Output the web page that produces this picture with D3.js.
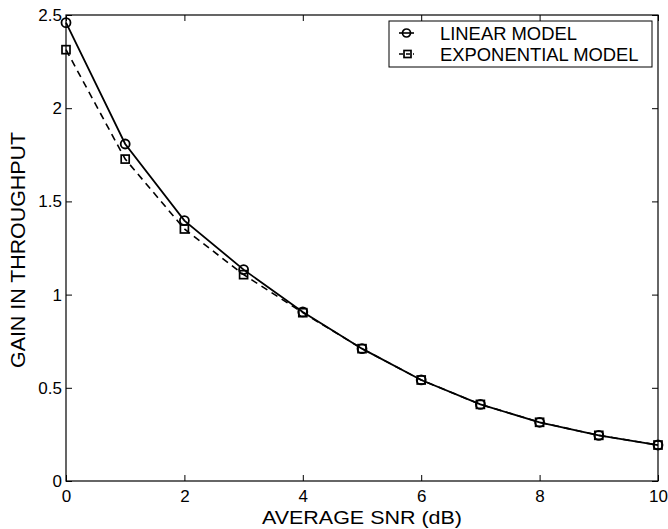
<!DOCTYPE html>
<html>
<head>
<meta charset="utf-8">
<script src="https://cdn.jsdelivr.net/npm/d3@7"></script>
<style>
  body { margin: 0; background: #fff; }
  text { font-family: "Liberation Sans", Arial, sans-serif; fill: #000; }
</style>
</head>
<body>
<div id="chart"></div>
<script>
// values
const snrDb = [0, 1, 2, 3, 4, 5, 6, 7, 8, 9, 10];
const linearGain = [2.459, 1.808, 1.397, 1.134, 0.907, 0.710, 0.542, 0.411, 0.315, 0.245, 0.193];
const exponentialGain = [2.314, 1.727, 1.352, 1.107, 0.903, 0.710, 0.542, 0.411, 0.315, 0.245, 0.193];
const xTicks = [0, 2, 4, 6, 8, 10];
const yTicks = [0, 0.5, 1, 1.5, 2, 2.5];
const seriesNames = ['LINEAR MODEL', 'EXPONENTIAL MODEL'];

const W = 668, H = 529;
const plotLeft = 66, plotRight = 658, plotTop = 15, plotBottom = 481;

const svg = d3.select('#chart').append('svg')
  .attr('width', W)
  .attr('height', H);

const x = d3.scaleLinear().domain([0, 10]).range([plotLeft, plotRight]);
const y = d3.scaleLinear().domain([0, 2.5]).range([plotBottom, plotTop]);

// ticks point inward on all four sides, matlab style
const tickLen = 6;
svg.append('g')
  .attr('transform', 'translate(0,' + plotBottom + ')')
  .call(d3.axisBottom(x).tickValues(xTicks).tickSize(-tickLen).tickPadding(9).tickFormat(d3.format('d')))
  .call(g => g.select('.domain').remove())
  .selectAll('text').attr('font-size', 17);

svg.append('g')
  .attr('transform', 'translate(0,' + plotTop + ')')
  .call(d3.axisTop(x).tickValues(xTicks).tickSize(-tickLen).tickFormat(''))
  .call(g => g.select('.domain').remove());

svg.append('g')
  .attr('transform', 'translate(' + plotLeft + ',0)')
  .call(d3.axisLeft(y).tickValues(yTicks).tickSize(-tickLen).tickPadding(4).tickFormat(d3.format('')))
  .call(g => g.select('.domain').remove())
  .selectAll('text').attr('font-size', 17);

svg.append('g')
  .attr('transform', 'translate(' + plotRight + ',0)')
  .call(d3.axisRight(y).tickValues(yTicks).tickSize(-tickLen).tickFormat(''))
  .call(g => g.select('.domain').remove());

svg.selectAll('.tick line').attr('stroke', '#000').attr('stroke-width', 1);

svg.append('rect')
  .attr('x', plotLeft).attr('y', plotTop)
  .attr('width', plotRight - plotLeft).attr('height', plotBottom - plotTop)
  .attr('fill', 'none').attr('stroke', '#000').attr('stroke-width', 1.2);

// axis labels (reference font runs a bit wider than Liberation Sans)
svg.append('text')
  .attr('x', (plotLeft + plotRight) / 2).attr('y', 523.5)
  .attr('text-anchor', 'middle')
  .attr('font-size', 19)
  .attr('textLength', 200).attr('lengthAdjust', 'spacingAndGlyphs')
  .text('AVERAGE SNR (dB)');

svg.append('text')
  .attr('transform', 'translate(25,250) rotate(-90)')
  .attr('text-anchor', 'middle')
  .attr('font-size', 20)
  .attr('textLength', 236).attr('lengthAdjust', 'spacingAndGlyphs')
  .text('GAIN IN THROUGHPUT');

const line = d3.line()
  .x((d, i) => x(snrDb[i]))
  .y(d => y(d));

// exponential model: dashed with squares
svg.append('path')
  .datum(exponentialGain)
  .attr('d', line)
  .attr('fill', 'none').attr('stroke', '#000')
  .attr('stroke-width', 1.6).attr('stroke-dasharray', '7,5');

svg.selectAll('.sq')
  .data(exponentialGain)
  .enter().append('rect')
  .attr('class', 'sq')
  .attr('x', (d, i) => x(snrDb[i]) - 4)
  .attr('y', d => y(d) - 4)
  .attr('width', 8).attr('height', 8)
  .attr('fill', 'none').attr('stroke', '#000').attr('stroke-width', 1.7);

// linear model: solid with circles
svg.append('path')
  .datum(linearGain)
  .attr('d', line)
  .attr('fill', 'none').attr('stroke', '#000')
  .attr('stroke-width', 1.8);

svg.selectAll('.ci')
  .data(linearGain)
  .enter().append('circle')
  .attr('class', 'ci')
  .attr('cx', (d, i) => x(snrDb[i]))
  .attr('cy', d => y(d))
  .attr('r', 4.5)
  .attr('fill', 'none').attr('stroke', '#000').attr('stroke-width', 1.8);

// legend
const lg = svg.append('g');
lg.append('rect')
  .attr('x', 389).attr('y', 21)
  .attr('width', 263).attr('height', 46)
  .attr('fill', '#fff').attr('stroke', '#000').attr('stroke-width', 1);

const rows = lg.selectAll('.row')
  .data(seriesNames)
  .enter().append('g')
  .attr('transform', (d, i) => 'translate(0,' + (33 + i * 21) + ')');

rows.append('line')
  .attr('x1', 399).attr('x2', 414)
  .attr('stroke', '#000').attr('stroke-width', 1.6)
  .attr('stroke-dasharray', (d, i) => i === 1 ? '4,3' : null);

rows.filter((d, i) => i === 0).append('circle')
  .attr('cx', 406.5).attr('r', 4)
  .attr('fill', 'none').attr('stroke', '#000').attr('stroke-width', 1.7);

rows.filter((d, i) => i === 1).append('rect')
  .attr('x', 404).attr('y', -3.5)
  .attr('width', 7).attr('height', 7)
  .attr('fill', 'none').attr('stroke', '#000').attr('stroke-width', 1.7);

rows.append('text')
  .attr('x', 440).attr('dy', '0.36em')
  .attr('font-size', 18.4)
  .text(d => d);
</script>
</body>
</html>
